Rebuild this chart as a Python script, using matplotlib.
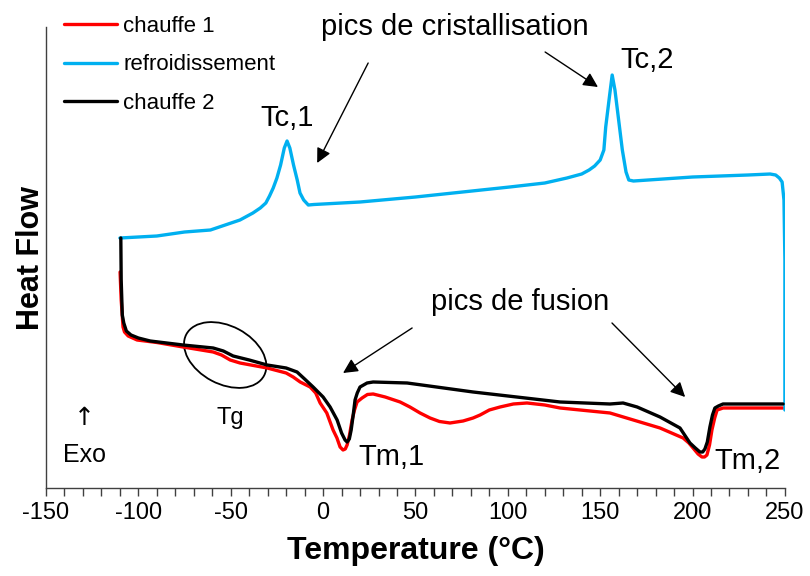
import matplotlib
matplotlib.use('Agg')
import matplotlib.pyplot as plt
from matplotlib.patches import Ellipse
from matplotlib import transforms
from matplotlib.ticker import MultipleLocator

# chauffe 1 (red)
t_heat1 = [-109.9, -109.3, -108.3, -107.5, -105.5, -100.7, -90, -75.8, -59.5, -55, -50.3, -45, -30.3,
           -20, -16.2, -12.4, -7, -4, -1.6, 2, 5.4, 7.5, 9.2, 10.8, 12, 13, 14.3, 15.7, 17, 18.4, 21.1,
           24, 27.1, 33.6, 41.7, 47, 52.5, 57.9, 63, 68.7, 75.8, 81.2, 85, 90, 95.8, 103, 110.4, 120,
           128.3, 149.9, 155.3, 182.4, 194.9, 198, 200.3, 203, 205.1, 206.5, 207.8, 209.2, 210.5, 212,
           213.3, 215, 216.5, 249]
hf_heat1 = [216, 188, 161, 156, 152, 148, 145.5, 141, 136, 133, 128, 125, 120,
            115, 111, 106, 101, 95, 85, 75, 58, 50, 41, 38, 39, 43, 53, 68, 78, 86, 90,
            93.5, 94, 91, 86, 81, 75, 70, 66.5, 65, 67, 70, 73, 78, 81, 84, 85, 83,
            80, 76, 75, 60, 50, 45, 40, 34, 31, 31, 33, 43, 58, 70,
            78, 79, 80, 80]

# refroidissement (blue)
t_cool = [-110, -100, -90, -75, -61, -53, -45, -38, -34, -31, -29, -27, -25, -23, -21, -19.5, -18, -16,
          -14, -12.5, -10.5, -8, -5, 0, 20, 50, 101, 120, 132, 140, 144, 147, 150, 152, 153, 155, 156.5,
          158, 160, 162, 164, 165.5, 168, 200, 230, 242, 245, 247, 248.5, 249.5, 250, 250]
hf_cool = [250, 251, 252, 256, 258, 263, 268, 275, 280, 285, 292, 300, 310, 323, 340, 347, 340, 323,
           308, 295, 288, 283, 283.5, 284, 286, 291, 301, 305, 310, 314, 318, 322, 328, 338, 361, 391, 413,
           398, 368, 338, 316, 308, 307, 311, 313, 314, 313, 310, 306, 288, 228, 78]

# chauffe 2 (black)
t_heat2 = [-109.5, -109.3, -108.7, -107.9, -106.5, -104, -100, -93.6, -75.8, -59.5, -54, -48.7, -40,
           -30.3, -20, -14.1, -10, -5.4, 0, 3.8, 7.6, 10, 11.9, 13, 14.2, 15.2, 16.3, 17.3, 18.5, 20,
           23.8, 27.1, 45.5, 81.2, 128.3, 155.3, 162.4, 170, 182.4, 193.2, 198.6, 201.5, 204, 205.5,
           206.7, 208, 209.4, 210.8, 212.1, 214, 216.5, 249]
hf_heat2 = [250, 208, 173, 165, 157, 153, 150, 147, 143, 140, 137, 132, 128,
            123, 120, 116, 109, 101, 91, 81, 68, 55, 48, 46, 49, 58, 73, 88, 95, 101,
            105, 106, 105, 96, 86, 84, 85, 81, 71, 60, 45, 40, 36, 36,
            39, 46, 61, 73, 80, 82, 84, 84]

plt.rcParams['font.family'] = ['Liberation Sans', 'DejaVu Sans']
plt.rcParams['axes.unicode_minus'] = False

fig = plt.figure(figsize=(8.1, 5.76), dpi=100)
ax = fig.add_axes([0.0568, 0.1528, 0.9122, 0.8003])

ax.plot(t_heat1, hf_heat1, color='#ff0000', lw=2.4, label='chauffe 1', solid_capstyle='round')
ax.plot(t_cool, hf_cool, color='#00b0f0', lw=2.4, label='refroidissement', solid_capstyle='round')
ax.plot(t_heat2, hf_heat2, color='black', lw=2.4, label='chauffe 2', solid_capstyle='round')

ax.set_xlim(-150, 250)
ax.set_ylim(0, 461)
ax.xaxis.set_major_locator(MultipleLocator(50))
ax.xaxis.set_minor_locator(MultipleLocator(10))
ax.set_yticks([])
ax.tick_params(axis='x', which='both', direction='out', length=6, width=1, color='#404040',
               labelsize=17, pad=4)
for s in ['top', 'right']:
    ax.spines[s].set_visible(False)
for s in ['left', 'bottom']:
    ax.spines[s].set_color('#404040')
    ax.spines[s].set_linewidth(1)

ax.set_xlabel('Temperature (°C)', fontsize=23, fontweight='bold', labelpad=9)
ax.set_ylabel('Heat Flow', fontsize=22, fontweight='bold', labelpad=0)

txt = dict(fontsize=21, ha='center', va='center')
ax.text(71.4, 461, 'pics de cristallisation', **txt)
ax.text(-19.5, 370, 'Tc,1', **txt)
ax.text(175.5, 428, 'Tc,2', **txt)
ax.text(106.6, 186, 'pics de fusion', **txt)
ax.text(37, 31, 'Tm,1', **txt)
ax.text(229.5, 27, 'Tm,2', **txt)
ax.text(-50.3, 70, 'Tg', fontsize=17, ha='center', va='center')
ax.text(-129.4, 70, '↑', fontsize=18, ha='center', va='center', family=['DejaVu Sans'])
ax.text(-129.4, 33, 'Exo', fontsize=18, ha='center', va='center')

arrow = dict(arrowstyle='-|>', color='black', lw=1, mutation_scale=22, shrinkA=0, shrinkB=0)
ax.annotate('', xy=(-3.2, 325), xytext=(24.4, 425), arrowprops=arrow)
ax.annotate('', xy=(148.8, 401), xytext=(120.2, 436), arrowprops=arrow)
ax.annotate('', xy=(10.8, 115), xytext=(48.2, 160), arrowprops=arrow)
ax.annotate('', xy=(196, 91), xytext=(156.4, 165), arrowprops=arrow)

# Tg circle, sized in inches so the tilt is not distorted
etrans = fig.dpi_scale_trans + transforms.ScaledTranslation(-53, 133, ax.transData)
ax.add_patch(Ellipse((0, 0), 0.88, 0.58, angle=-28, transform=etrans, fill=False,
                     edgecolor='black', lw=1.3))

fig.legend(loc='upper left', bbox_to_anchor=(0.060, 1.0), frameon=False, fontsize=16,
           handlelength=2.4, handletextpad=0.25, labelspacing=0.8, borderpad=0.2)

fig.savefig('out.png', dpi=100)
